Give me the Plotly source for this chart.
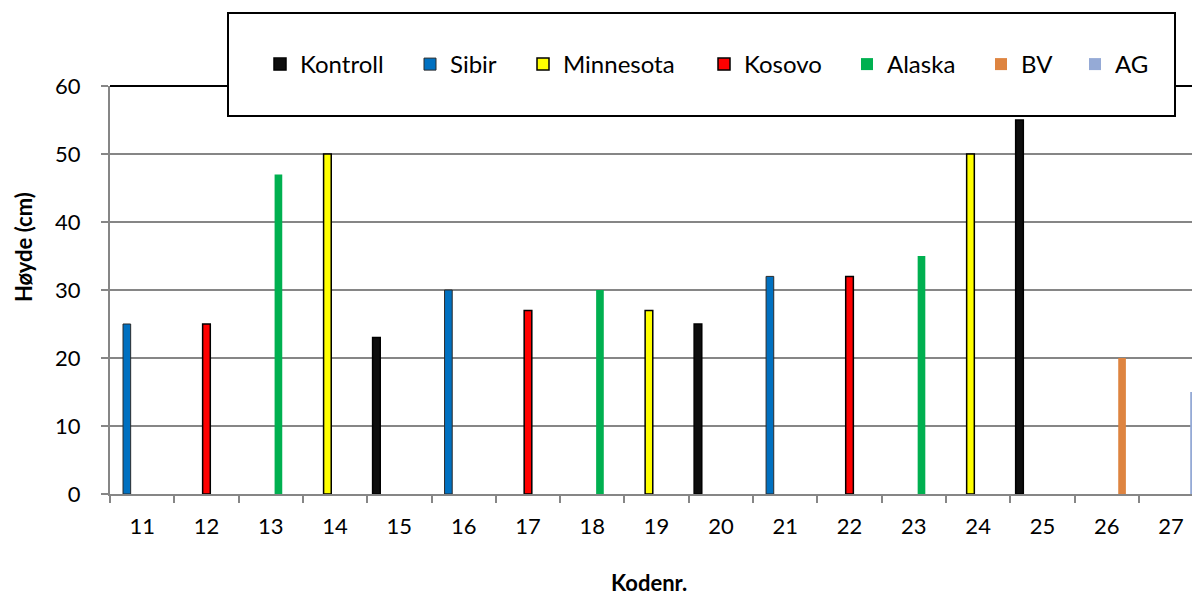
import plotly.graph_objects as go

# ---- data ----
categories = ["11", "12", "13", "14", "15", "16", "17", "18", "19",
              "20", "21", "22", "23", "24", "25", "26", "27"]
series_names = ["Kontroll", "Sibir", "Minnesota", "Kosovo", "Alaska", "BV", "AG"]
series_of_code = ["Sibir", "Kosovo", "Alaska", "Minnesota", "Kontroll",
                  "Sibir", "Kosovo", "Alaska", "Minnesota", "Kontroll",
                  "Sibir", "Kosovo", "Alaska", "Minnesota", "Kontroll",
                  "BV", "AG"]
heights = [25, 25, 47, 50, 23, 30, 27, 30, 27, 25, 32, 32, 35, 50, 55, 20, 15]
y_ticks = [0, 10, 20, 30, 40, 50, 60]

# ---- styles ----
fill_colors = {"Kontroll": "#0d0d0d", "Sibir": "#0070C0", "Minnesota": "#FFFF00",
               "Kosovo": "#FF0000", "Alaska": "#00B050", "BV": "#DE8440",
               "AG": "#95AAD6"}
line_widths = {"Kontroll": 1.5, "Sibir": 1.0, "Minnesota": 1.5, "Kosovo": 1.5,
               "Alaska": 0, "BV": 0, "AG": 0}
line_colors = {"Kontroll": "#000000", "Sibir": "#2a2a2a", "Minnesota": "#000000",
               "Kosovo": "#000000", "Alaska": "#000000", "BV": "#000000",
               "AG": "#000000"}
legend_centers_px = [280, 430, 543, 724, 867, 1001, 1095]

FONT = "Lato"
PAGE = 8  # browser body margin
# plot area in page pixels
PLOT_LEFT, PLOT_RIGHT, PLOT_TOP, PLOT_BOTTOM = 110, 1200, 86, 494
W, H = 1200 - PAGE, 595 - PAGE
L = PLOT_LEFT - PAGE
T = PLOT_TOP - PAGE
R = W - (PLOT_RIGHT - PAGE)
B = H - (PLOT_BOTTOM - PAGE)
plot_w = PLOT_RIGHT - PLOT_LEFT
plot_h = PLOT_BOTTOM - PLOT_TOP

def px_to_paper_x(px):
    return (px - PLOT_LEFT) / plot_w

def px_to_paper_y(py):
    return (PLOT_BOTTOM - py) / plot_h

fig = go.Figure()
layout_legends = {}
for i, name in enumerate(series_names):
    ys = [h if s == name else None for s, h in zip(series_of_code, heights)]
    legend_id = "legend" if i == 0 else f"legend{i + 1}"
    fig.add_trace(go.Bar(
        x=categories, y=ys, name=name,
        marker=dict(color=fill_colors[name],
                    line=dict(color=line_colors[name], width=line_widths[name])),
        legend=legend_id,
    ))
    layout_legends[legend_id] = dict(
        x=px_to_paper_x(legend_centers_px[i] - 20), xanchor="left",
        y=px_to_paper_y(64.5), yanchor="middle",
        bgcolor="rgba(0,0,0,0)", borderwidth=0,
        font=dict(family=FONT, size=24, color="#000000"),
    )

fig.update_layout(
    width=W, height=H,
    margin=dict(l=L, r=R, t=T, b=B, pad=0),
    paper_bgcolor="white", plot_bgcolor="white",
    barmode="group", bargap=0.167, bargroupgap=0,
    font=dict(family=FONT, color="#000000"),
    showlegend=True,
    **layout_legends,
)

fig.update_xaxes(
    type="category", range=[-0.5, 16.45],
    tickson="boundaries", ticks="outside", ticklen=7, tickwidth=1.5,
    tickcolor="#868686", showline=True, linecolor="#868686", linewidth=2,
    showgrid=False, zeroline=False,
    tickfont=dict(family=FONT, size=22, color="#000000"),
    ticklabelstandoff=12,
)
fig.update_yaxes(
    range=[0, 60], tickvals=y_ticks, ticks="outside", ticklen=7, tickwidth=1.5,
    tickcolor="#868686", showline=True, linecolor="#868686", linewidth=2,
    showgrid=True, gridcolor="#868686", gridwidth=1.5, zeroline=False,
    tickfont=dict(family=FONT, size=22, color="#000000"),
    ticklabelstandoff=16,
)

# top border of plot area and legend frame
fig.add_shape(type="line", xref="paper", yref="paper", x0=0, x1=1, y0=1, y1=1,
              line=dict(color="#000000", width=2), layer="above")
fig.add_shape(type="rect", xref="paper", yref="paper",
              x0=px_to_paper_x(228), x1=px_to_paper_x(1175),
              y0=px_to_paper_y(116), y1=px_to_paper_y(13),
              line=dict(color="#000000", width=2), fillcolor="white", layer="above")

fig.add_annotation(text="<b>Høyde (cm)</b>", xref="paper", yref="paper",
                   x=px_to_paper_x(23), y=px_to_paper_y(247), textangle=-90,
                   showarrow=False, xanchor="center", yanchor="middle",
                   font=dict(family=FONT, size=22, color="#000000"))
fig.add_annotation(text="<b>Kodenr.</b>", xref="paper", yref="paper",
                   x=px_to_paper_x(649), y=px_to_paper_y(582),
                   showarrow=False, xanchor="center", yanchor="middle",
                   font=dict(family=FONT, size=22, color="#000000"))

fig.write_html("out.html")
